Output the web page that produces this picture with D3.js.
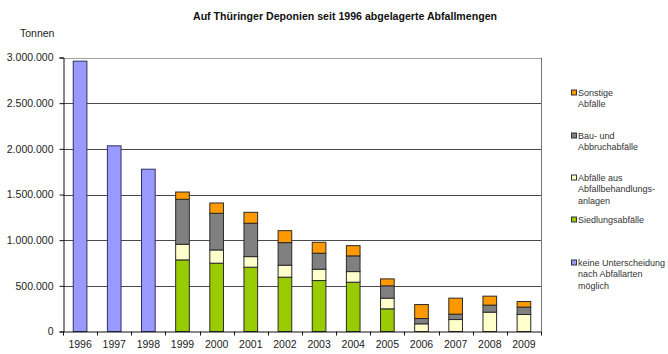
<!DOCTYPE html>
<html>
<head>
<meta charset="utf-8">
<script src="https://d3js.org/d3.v7.min.js"></script>
<style>
  body { margin: 0; background: #fff; }
  svg { display: block; font-family: Arial, "Liberation Sans", sans-serif; }
</style>
</head>
<body>
<svg width="668" height="354"></svg>
<script>
// values (tonnes)
const years = ["1996","1997","1998","1999","2000","2001","2002","2003","2004","2005","2006","2007","2008","2009"];
const keine      = [2960000, 2033000, 1777000, 0, 0, 0, 0, 0, 0, 0, 0, 0, 0, 0];
const siedlung   = [0, 0, 0, 784000, 748000, 704000, 595000, 558000, 540000, 248000, 0, 0, 0, 0];
const behandlung = [0, 0, 0, 171000, 145000, 116000, 131000, 124000, 116000, 117000, 84000, 131000, 212000, 186000];
const bau        = [0, 0, 0, 492000, 401000, 365000, 247000, 175000, 172000, 135000, 58000, 59000, 77000, 81000];
const sonstige   = [0, 0, 0, 80000, 113000, 120000, 131000, 120000, 112000, 76000, 153000, 175000, 98000, 61000];
const yTicks = [0, 500000, 1000000, 1500000, 2000000, 2500000, 3000000];

const svg = d3.select("svg");
const pLeft = 63, pRight = 541, pTop = 57.5, pBottom = 331.5;

const x = d3.scaleBand().domain(years).range([pLeft, pRight]).paddingInner(0.6).paddingOuter(0.3);
const y = d3.scaleLinear().domain([0, 3000000]).range([pBottom, pTop]);
const fmt = v => d3.format(",")(v).replace(/,/g, ".");

// title
svg.append("text")
  .attr("x", 193).attr("y", 20)
  .attr("textLength", 304).attr("lengthAdjust", "spacingAndGlyphs")
  .style("font-size", "11px").style("font-weight", "bold").style("fill", "#111")
  .text("Auf Thüringer Deponien seit 1996 abgelagerte  Abfallmengen");

svg.append("text")
  .attr("x", 20).attr("y", 37)
  .style("font-size", "10.5px").style("fill", "#222")
  .text("Tonnen");

// grid lines
svg.append("g").selectAll("line")
  .data(yTicks.filter(d => d > 0))
  .join("line")
  .attr("x1", pLeft).attr("x2", pRight)
  .attr("y1", d => Math.round(y(d)) + 0.5).attr("y2", d => Math.round(y(d)) + 0.5)
  .attr("stroke", d => d === 3000000 ? "#a0a0a0" : "#4a4a4a")
  .attr("stroke-width", 1.2);

// right border
svg.append("line")
  .attr("x1", pRight + 0.5).attr("x2", pRight + 0.5)
  .attr("y1", y(3000000)).attr("y2", pBottom)
  .attr("stroke", "#777");

// stacked bars
const rows = years.map((yr, i) => ({
  year: yr, siedlung: siedlung[i], behandlung: behandlung[i], bau: bau[i], sonstige: sonstige[i], keine: keine[i]
}));
const keys = ["keine", "siedlung", "behandlung", "bau", "sonstige"];
const colors = {
  keine: "#9999ff", siedlung: "#99cc00", behandlung: "#ffffcc", bau: "#808080", sonstige: "#ff9900"
};
const stack = d3.stack().keys(keys)(rows);

svg.append("g").selectAll("g")
  .data(stack)
  .join("g")
  .attr("fill", d => colors[d.key])
  .attr("stroke", d => d.key === "keine" ? "#2f2f5f" : "#2a2a2a")
  .attr("stroke-width", 1)
  .selectAll("rect")
  .data(d => d.filter(s => s[1] - s[0] > 0))
  .join("rect")
  .attr("x", d => x(d.data.year))
  .attr("width", x.bandwidth())
  .attr("y", d => y(d[1]))
  .attr("height", d => y(d[0]) - y(d[1]));

// y axis
const yAxis = svg.append("g")
  .attr("transform", `translate(${pLeft + 0.5},0)`)
  .call(d3.axisLeft(y).tickValues(yTicks).tickFormat(fmt).tickSize(4).tickPadding(6));
yAxis.select(".domain").attr("stroke", "#111");
yAxis.selectAll(".tick line").attr("stroke", "#111");
yAxis.selectAll("text").style("font-size", "10.5px").style("fill", "#222").attr("font-family", null);

// x axis
const xAxis = svg.append("g")
  .attr("transform", `translate(0,${pBottom + 0.5})`)
  .call(d3.axisBottom(x).tickSize(0).tickPadding(9));
xAxis.select(".domain").attr("stroke", "#111").attr("d", `M${pLeft},0H${pRight}`);
xAxis.selectAll("text").style("font-size", "10.5px").style("fill", "#222").attr("font-family", null);
// tick marks between categories
svg.append("g").selectAll("line")
  .data(d3.range(years.length + 1))
  .join("line")
  .attr("x1", i => Math.round(pLeft + i * x.step()) + 0.5)
  .attr("x2", i => Math.round(pLeft + i * x.step()) + 0.5)
  .attr("y1", pBottom).attr("y2", pBottom + 4)
  .attr("stroke", "#111");

// legend
const legend = [
  {key: "sonstige", y: 93, lines: ["Sonstige", "Abfälle"]},
  {key: "bau", y: 136, lines: ["Bau- und", "Abbruchabfälle"]},
  {key: "behandlung", y: 178, lines: ["Abfälle aus", "Abfallbehandlungs-", "anlagen"]},
  {key: "siedlung", y: 220, lines: ["Siedlungsabfälle"]},
  {key: "keine", y: 263, lines: ["keine Unterscheidung", "nach Abfallarten", "möglich"]}
];
const lg = svg.append("g").selectAll("g").data(legend).join("g");
lg.append("rect")
  .attr("x", 571.5).attr("y", d => d.y - 3)
  .attr("width", 5).attr("height", 5)
  .attr("fill", d => colors[d.key])
  .attr("stroke", "#333");
lg.append("text")
  .style("font-size", "9px").style("fill", "#333")
  .selectAll("tspan").data(d => d.lines.map((t, i) => ({t, i, y: d.y})))
  .join("tspan")
  .attr("x", 578).attr("y", d => d.y + 3 + d.i * 11.3)
  .text(d => d.t);
</script>
</body>
</html>
